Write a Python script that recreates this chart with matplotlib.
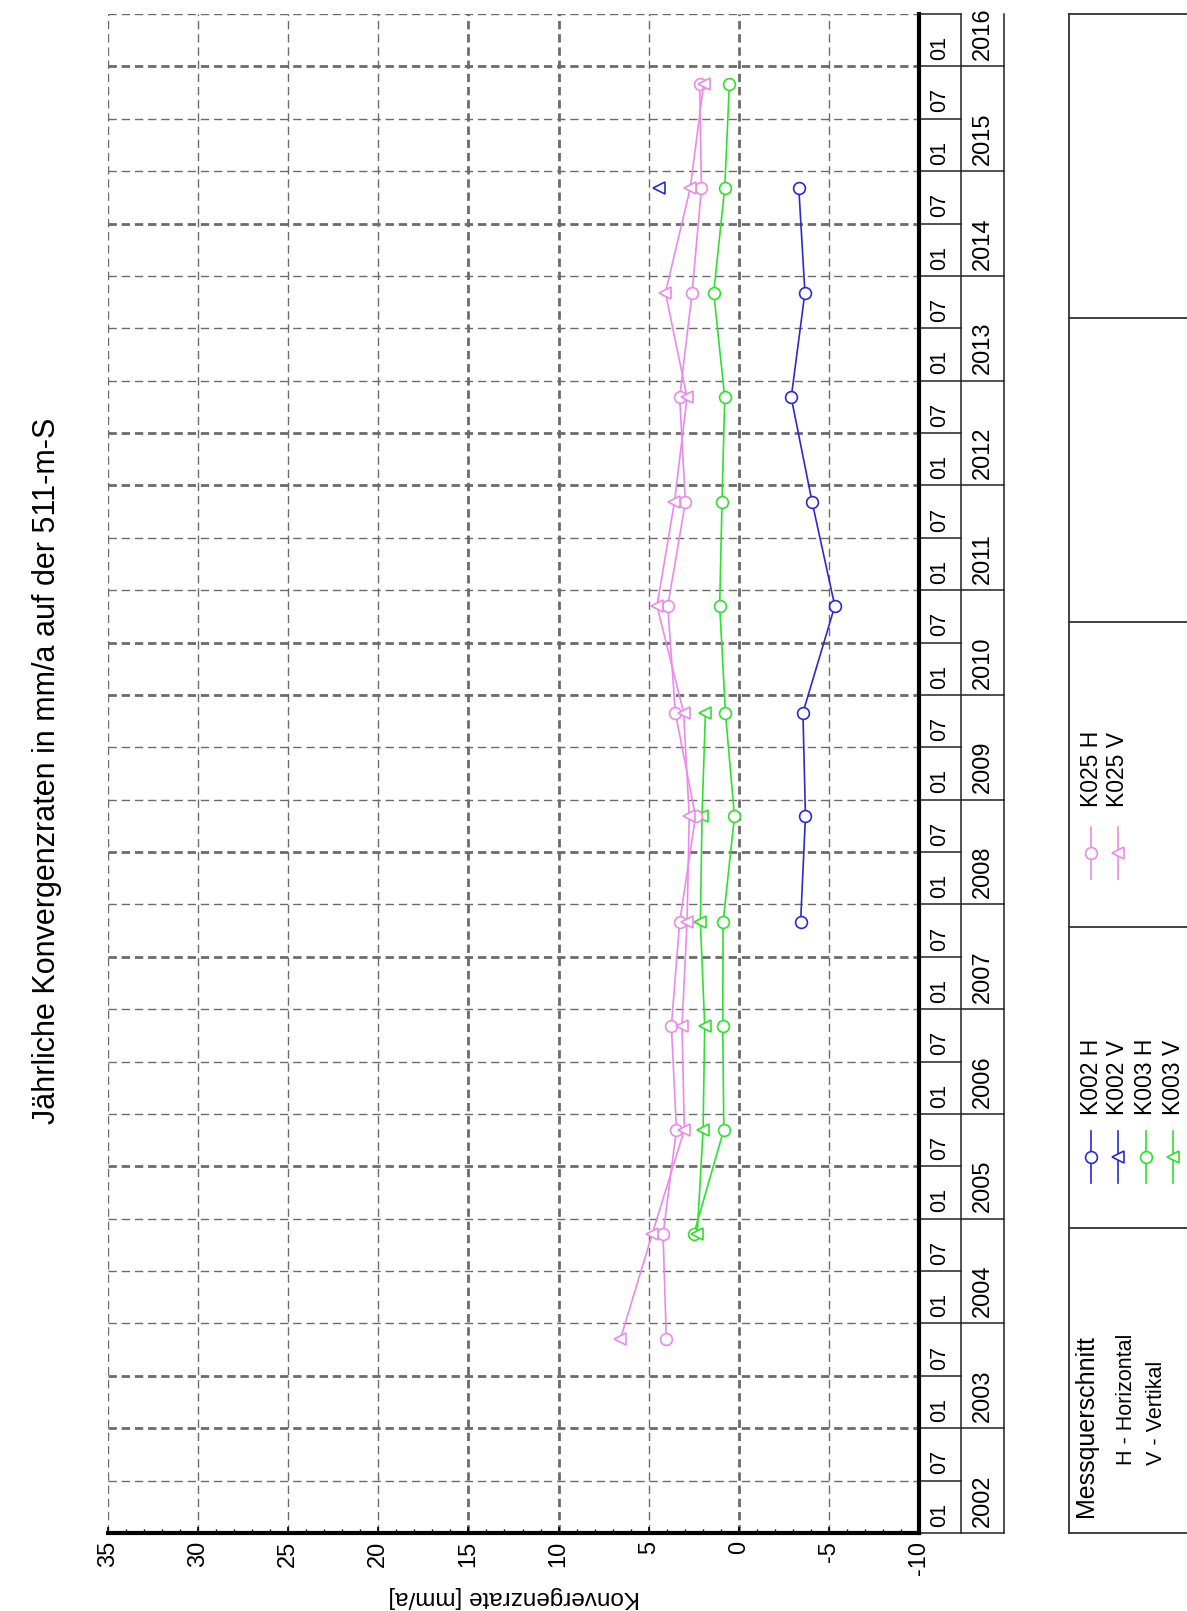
import numpy as np
import matplotlib.pyplot as plt
from matplotlib.ticker import MultipleLocator

W, H = 1187, 1611
plt.rcParams['font.family'] = ['Liberation Sans', 'DejaVu Sans']
plt.rcParams['lines.scale_dashes'] = False

# measurement dates (decimal years) and convergence rates [mm/a]
t_k002_h = [2007.83, 2008.84, 2009.83, 2010.85, 2011.84, 2012.84, 2013.84, 2014.84]
k002_h = [-3.43, -3.70, -3.56, -5.33, -4.07, -2.91, -3.67, -3.33]
t_k002_v = [2014.84]
k002_v = [4.44]
t_k003_h = [2004.85, 2005.85, 2006.84, 2007.83, 2008.84, 2009.83,
            2010.85, 2011.84, 2012.84, 2013.84, 2014.84, 2015.83]
k003_h = [2.50, 0.83, 0.89, 0.87, 0.24, 0.74, 1.06, 0.93, 0.78, 1.39, 0.78, 0.52]
t_k003_v = [2004.85, 2005.85, 2006.84, 2007.83, 2008.84, 2009.83]
k003_v = [2.31, 1.98, 1.89, 2.13, 2.04, 1.85]
t_k025 = [2003.85, 2004.85, 2005.85, 2006.84, 2007.83, 2008.84, 2009.83,
          2010.85, 2011.84, 2012.84, 2013.84, 2014.84, 2015.83]
k025_h = [4.02, 4.20, 3.46, 3.74, 3.28, 2.40, 3.52, 3.94, 2.96, 3.28, 2.59, 2.07, 2.17]
k025_v = [6.57, 4.81, 3.02, 3.15, 2.87, 2.75, 3.06, 4.54, 3.57, 2.87, 4.07, 2.69, 1.95]

val_ticks = [35, 30, 25, 20, 15, 10, 5, 0, -5, -10]
years = list(range(2002, 2017))
months = ['01', '07']

BLUE, GREEN, PINK = '#2b2bcc', '#2fe02f', '#ea8aea'
series = [
    ('K002 H', t_k002_h, k002_h, BLUE, 'o'),
    ('K002 V', t_k002_v, k002_v, BLUE, '<'),
    ('K003 H', t_k003_h, k003_h, GREEN, 'o'),
    ('K003 V', t_k003_v, k003_v, GREEN, '<'),
    ('K025 H', t_k025, k025_h, PINK, 'o'),
    ('K025 V', t_k025, k025_v, PINK, '<'),
]

# rendering artefacts of the scan: some grid lines look heavier
bold_v = {15, 10, 0}
bold_t = {2016.0, 2014.5, 2012.5, 2012.0, 2010.5, 2010.0, 2008.5, 2007.5,
          2005.5, 2003.5, 2003.0}

fig = plt.figure(figsize=(W / 100, H / 100), dpi=100)
L, R, T, B = 108, 919, 14, 1533
ax = fig.add_axes([L / W, 1 - B / H, (R - L) / W, (B - T) / H])
ax.set_xlim(35, -10)
ax.set_ylim(2002.0, 2016.5)

grid_kw = dict(color='#6b6b6b', dashes=(6, 3.5), zorder=1)
for v in val_ticks[:-1]:
    ax.axvline(v, lw=2.0 if v in bold_v else 1.0, **grid_kw)
for tt in np.arange(2002.5, 2016.51, 0.5):
    ax.axhline(tt, lw=2.0 if round(tt, 1) in bold_t else 1.0, **grid_kw)

for label, t, v, c, m in series:
    ax.plot(v, t, color=c, lw=1.2, marker=m, ms=8.5, mfc='white', mec=c,
            mew=1.2, zorder=3)

for s in ['top', 'left']:
    ax.spines[s].set_visible(False)
for s in ['bottom', 'right']:
    ax.spines[s].set_linewidth(3)
    ax.spines[s].set_color('black')

ax.set_xticks(val_ticks)
ax.set_xticklabels([str(v) for v in val_ticks])
ax.xaxis.set_minor_locator(MultipleLocator(1))
ax.tick_params(axis='x', which='major', direction='in', length=4, width=1.2,
               pad=5.5, labelsize=17, labelrotation=90)
ax.tick_params(axis='x', which='minor', direction='in', length=3, width=1)
ax.set_yticks([])

# time table on the right
tr = ax.get_yaxis_transform()
x0, x1, x2 = 1.0, 1 + 42 / 811, 1 + 85 / 811
line_kw = dict(transform=tr, color='#222222', lw=1.1, clip_on=False)
for tt in np.arange(2002.0, 2016.51, 0.5):
    jan = tt % 1 == 0
    ax.plot([x0, x2 if jan else x1], [tt, tt], **line_kw)
ax.plot([x1, x1], [2002.0, 2016.5], **line_kw)
ax.plot([x2, x2], [2002.0, 2016.5], **line_kw)
for y in years:
    for i, mo in enumerate(months):
        tt = y + 0.5 * i
        if tt > 2016.0:
            continue
        ax.text((x0 + x1) / 2, tt + 0.06, mo, transform=tr, rotation=90,
                ha='center', va='bottom', fontsize=15.5, clip_on=False)
    ax.text((x1 + x2) / 2, y + 0.06, str(y), transform=tr, rotation=90,
            ha='center', va='bottom', fontsize=17, clip_on=False)

fig.text(47 / W, 1 - 771 / H, 'Jährliche Konvergenzraten in mm/a auf der 511-m-S',
         rotation=90, ha='center', va='center', fontsize=22)
fig.text(514 / W, 1 - 1597 / H, 'Konvergenzrate [mm/a]', rotation=180,
         ha='center', va='center', fontsize=17.5)

# legend panel in pixel coordinates
pane = fig.add_axes([0, 0, 1, 1])
pane.set_xlim(0, W)
pane.set_ylim(H, 0)
pane.axis('off')
bx = 1069
box_kw = dict(color='#333333', lw=1.3)
pane.plot([bx, bx], [14, 1533], **box_kw)
for yy in [14, 318, 622, 927, 1228, 1533]:
    pane.plot([bx, W], [yy, yy], **box_kw)

pane.text(1086, 1517, 'Messquerschnitt', rotation=90, ha='center', va='bottom', fontsize=18)
pane.text(1126, 1465, 'H - Horizontal', rotation=90, ha='center', va='bottom', fontsize=15.5)
pane.text(1156, 1465, 'V - Vertikal', rotation=90, ha='center', va='bottom', fontsize=15.5)

leg_pos = {'K002 H': (1091, 1157, 1115), 'K002 V': (1118, 1157, 1115),
           'K003 H': (1146, 1157, 1115), 'K003 V': (1173, 1157, 1115),
           'K025 H': (1091, 853, 807), 'K025 V': (1118, 853, 807)}
for label, t, v, c, m in series:
    xc, ym, yt = leg_pos[label]
    pane.plot([xc, xc], [ym - 26, ym + 26], color=c, lw=1.2)
    pane.plot([xc], [ym], marker=m, ms=8.5, mfc='white', mec=c, mew=1.2)
    pane.text(xc, yt, label, rotation=90, ha='center', va='bottom', fontsize=16.5)

fig.savefig('out.png', dpi=100)
